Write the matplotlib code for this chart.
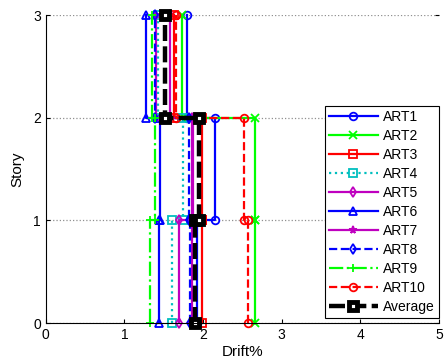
import numpy as np
import matplotlib.pyplot as plt

plt.rcParams['font.family'] = ['Liberation Sans', 'DejaVu Sans']

# Derivas por piso (piso 1, 2, 3)
stories = [0, 1, 2, 3]
art1 = [1.92, 2.15, 1.79]
art2 = [2.66, 2.66, 1.735]
art3 = [1.98, 1.98, 1.63]
art4 = [1.61, 1.75, 1.43]
art5 = [1.70, 1.855, 1.58]
art6 = [1.44, 1.45, 1.28]
art7 = [1.86, 1.87, 1.40]
art8 = [1.84, 1.82, 1.39]
art9 = [1.325, 1.39, 1.355]
art10 = [2.57, 2.52, 1.66]
average = [1.90, 1.95, 1.515]

labels = ['ART1', 'ART2', 'ART3', 'ART4', 'ART5', 'ART6', 'ART7', 'ART8', 'ART9', 'ART10']
series = [art1, art2, art3, art4, art5, art6, art7, art8, art9, art10]
styles = [('b', '-', 'o'), ('#00ff00', '-', 'x'), ('r', '-', 's'), ('c', ':', 's'),
          ('m', '-', 'd'), ('b', '-', '^'), ('m', '-', '*'), ('b', '--', 'd'),
          ('#00ff00', '-.', '+'), ('r', '--', 'o')]


def step_xy(d):
    # cada piso: linea vertical entre niveles
    x, y = [], []
    for i, v in enumerate(d):
        x += [v, v]
        y += [stories[i], stories[i + 1]]
    return x, y


fig = plt.figure(figsize=(4.44, 3.61), dpi=100)
ax = fig.add_axes([0.103, 0.105, 0.886, 0.853])

for d, lab, (c, ls, mk) in zip(series, labels, styles):
    x, y = step_xy(d)
    ax.plot(x, y, color=c, linestyle=ls, marker=mk, mfc='none', ms=5.5,
            mew=1.3, lw=1.6, label=lab, clip_on=False)

x, y = step_xy(average)
ax.plot(x, y, color='k', linestyle=(0, (3.6, 1.2)), lw=3.2, marker='s', ms=6,
        mfc='white', mec='k', mew=3.5, label='Average', clip_on=False)

ax.set_xlim(0, 5)
ax.set_ylim(0, 3)
ax.set_xticks([0, 1, 2, 3, 4, 5])
ax.set_yticks([0, 1, 2, 3])
ax.yaxis.grid(True, color='#909090', linestyle=':', lw=0.9)
ax.tick_params(direction='in', labelsize=10, length=3, right=True)
ax.spines['top'].set_visible(False)
ax.spines['right'].set_visible(False)
ax.set_xlabel('Drift%', fontsize=11, labelpad=2)
ax.set_ylabel('Story', fontsize=11, labelpad=6)

leg = ax.legend(loc='lower right', bbox_to_anchor=(1.0, 0.015), fontsize=10,
                fancybox=False, framealpha=1, edgecolor='k', handlelength=3.5,
                labelspacing=0.36, borderpad=0.3, handletextpad=0.4,
                borderaxespad=0)
leg.get_frame().set_linewidth(0.8)

plt.savefig('out.png')
